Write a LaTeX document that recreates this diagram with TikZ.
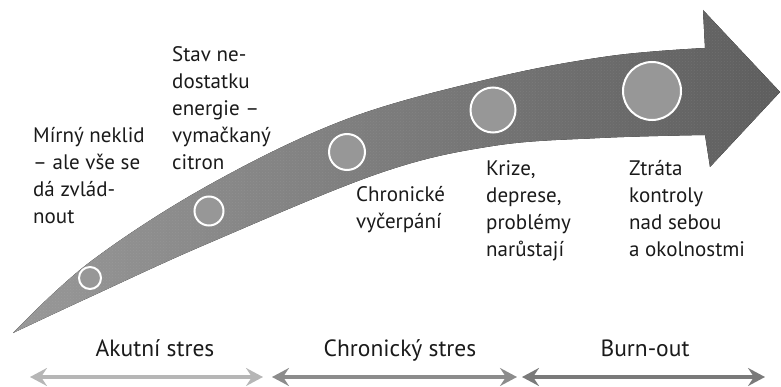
\documentclass[tikz,border=0pt]{standalone}
\usepackage{fontspec}
\setmainfont{PT Sans}
\usetikzlibrary{arrows.meta,patterns}
\definecolor{txt}{HTML}{1A1A1A}
\definecolor{bodyA}{HTML}{989898}
\definecolor{bodyB}{HTML}{5E5E5E}
\definecolor{dotfill}{HTML}{979797}
\definecolor{arrA}{HTML}{B6B6B6}
\definecolor{arrB}{HTML}{8C8C8C}
\definecolor{arrC}{HTML}{7A7A7A}
\tikzset{
  lbl/.style={font=\fontsize{21}{27}\selectfont, text=txt, align=left, anchor=base west, inner sep=0pt},
  phase/.style={font=\fontsize{23.5}{27}\selectfont, text=txt, anchor=base, inner sep=0pt},
  stage/.style={circle, draw=white, line width=2pt, fill=dotfill, inner sep=0pt},
  span/.style={line width=4.5pt, {Stealth[length=17pt,width=18pt,inset=6pt]}-{Stealth[length=17pt,width=18pt,inset=6pt]}}
}
\begin{document}
\begin{tikzpicture}[x=1pt,y=-1pt]
\useasboundingbox (0,0) rectangle (781,387);
% main curved arrow
\def\arrowpath{(13,333) -- plot[smooth, tension=0.6] coordinates {(13,333) (90,262) (209,185) (347,119) (493,78) (610,56) (705,48)}
  -- (703,10) -- (780,92) -- (710,167) -- (705,135)
  -- plot[smooth, tension=0.6] coordinates {(705,135) (600,138) (493,146) (380,173) (209,243) (90,297) (13,333)} -- cycle}
\fill[left color=bodyA, right color=bodyB] \arrowpath;
\fill[pattern=crosshatch dots, pattern color=white, opacity=0.07] \arrowpath;
% stage circles
\node[stage, minimum size=22pt] (c1) at (90,278) {};
\node[stage, minimum size=29pt] (c2) at (209,211) {};
\node[stage, minimum size=36pt] (c3) at (347,152) {};
\node[stage, minimum size=45pt] (c4) at (493,110) {};
\node[stage, minimum size=58pt] (c5) at (652,91) {};
% labels (positioned by baseline of last line)
\node[lbl] (t1) at (33,224) {Mírný neklid\\– ale vše se\\dá zvlád-\\nout};
\node[lbl] (t2) at (172,170) {Stav ne-\\dostatku\\energie –\\vymačkaný\\citron};
\node[lbl] (t3) at (356,229) {Chronické\\vyčerpání};
\node[lbl] (t4) at (486,256) {Krize,\\deprese,\\problémy\\narůstají};
\node[lbl] (t5) at (629,256) {Ztráta\\kontroly\\nad sebou\\a okolnostmi};
% phases
\node[phase] (p1) at (155,356) {Akutní stres};
\node[phase] (p2) at (400,356) {Chronický stres};
\node[phase] (p3) at (645,356) {Burn-out};
\coordinate (a1) at (30,377);
\coordinate (b1) at (263,377);
\coordinate (a2) at (272,377);
\coordinate (b2) at (517,377);
\coordinate (a3) at (522,377);
\coordinate (b3) at (765,377);
\draw[span, draw=arrA, fill=arrA] (a1) -- (b1);
\draw[span, draw=arrB, fill=arrB] (a2) -- (b2);
\draw[span, draw=arrC, fill=arrC] (a3) -- (b3);
\end{tikzpicture}
\end{document}
